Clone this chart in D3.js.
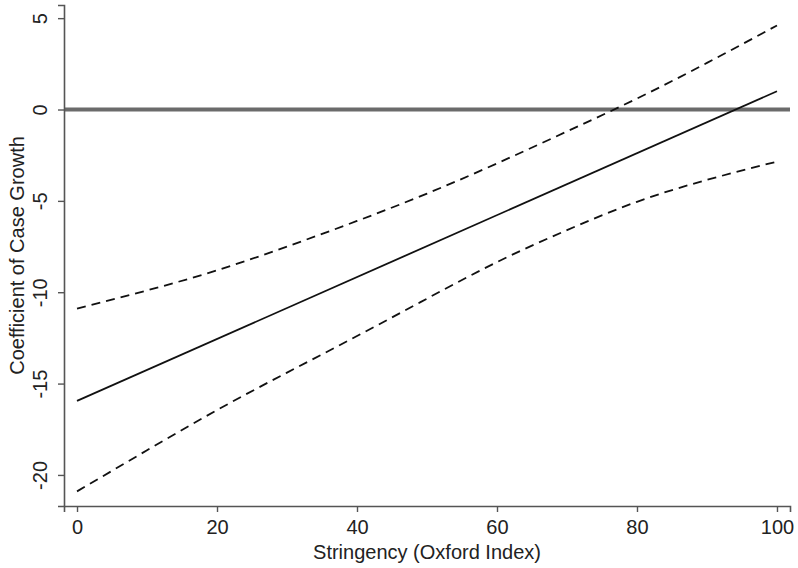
<!DOCTYPE html>
<html>
<head>
<meta charset="utf-8">
<script src="https://cdn.jsdelivr.net/npm/d3@7"></script>
<style>
  body { margin: 0; background: #fff; }
  text { font-family: "Liberation Sans", Arial, sans-serif; }
</style>
</head>
<body>
<svg id="chart"></svg>
<script>
// stringency values where the bands were read
const stringency = [0, 10, 20, 30, 40, 50, 60, 70, 80, 90, 100];
const upperCI = [-10.9, -9.9, -8.8, -7.5, -6.1, -4.6, -2.95, -1.2, 0.6, 2.55, 4.6];
const lowerCI = [-20.9, -18.65, -16.45, -14.4, -12.4, -10.35, -8.35, -6.6, -5.05, -3.85, -2.85];
// the fitted line is straight, read at both ends
const fitX = [0, 100];
const fitY = [-15.95, 1.0];
const xTicks = [0, 20, 40, 60, 80, 100];
const yTicks = [5, 0, -5, -10, -15, -20];

const width = 798, height = 568;
const svg = d3.select("#chart").attr("width", width).attr("height", height);

const x = d3.scaleLinear().domain([-1.86, 101.86]).range([64, 790]);
const y = d3.scaleLinear().domain([-21.7, 5.72]).range([506, 5]);

// zero reference line
svg.append("line")
  .attr("x1", x.range()[0]).attr("x2", x.range()[1])
  .attr("y1", y(0)).attr("y2", y(0))
  .attr("stroke", "#6b6b6b").attr("stroke-width", 4);

const line = d3.line().x(d => x(d[0])).y(d => y(d[1])).curve(d3.curveNatural);

[upperCI, lowerCI].forEach(band => {
  svg.append("path")
    .datum(stringency.map((s, i) => [s, band[i]]))
    .attr("d", line).attr("fill", "none")
    .attr("stroke", "#111").attr("stroke-width", 1.8).attr("stroke-dasharray", "9,6");
});

svg.append("path")
  .datum(fitX.map((s, i) => [s, fitY[i]]))
  .attr("d", line).attr("fill", "none")
  .attr("stroke", "#111").attr("stroke-width", 1.8);

// axes
const fmt = d => String(d);

const xAxis = svg.append("g")
  .attr("transform", `translate(0, ${y.range()[0]})`)
  .call(d3.axisBottom(x).tickValues(xTicks).tickFormat(fmt).tickSizeOuter(0).tickSize(6).tickPadding(8));

const yAxis = svg.append("g")
  .attr("transform", `translate(${x.range()[0]}, 0)`)
  .call(d3.axisLeft(y).tickValues(yTicks).tickFormat(fmt).tickSizeOuter(0).tickSize(6));

[xAxis, yAxis].forEach(g => {
  g.select(".domain").attr("stroke", "#555").attr("stroke-width", 1.6);
  g.selectAll(".tick line").attr("stroke", "#555").attr("stroke-width", 1.4);
  g.selectAll(".tick text").attr("fill", "#222").style("font-size", "20px")
    .style("font-family", "'Liberation Sans', Arial, sans-serif");
});

yAxis.selectAll(".tick text")
  .attr("transform", "rotate(-90)")
  .attr("x", 0).attr("y", -17).attr("dy", 0)
  .attr("text-anchor", "middle");

// titles
svg.append("text")
  .attr("x", (x.range()[0] + x.range()[1]) / 2).attr("y", 559)
  .attr("text-anchor", "middle").attr("fill", "#222")
  .style("font-size", "20px")
  .text("Stringency (Oxford Index)");

svg.append("text")
  .attr("transform", `translate(24, ${(y.range()[0] + y.range()[1]) / 2}) rotate(-90)`)
  .attr("text-anchor", "middle").attr("fill", "#222")
  .style("font-size", "20px")
  .text("Coefficient of Case Growth");
</script>
</body>
</html>
